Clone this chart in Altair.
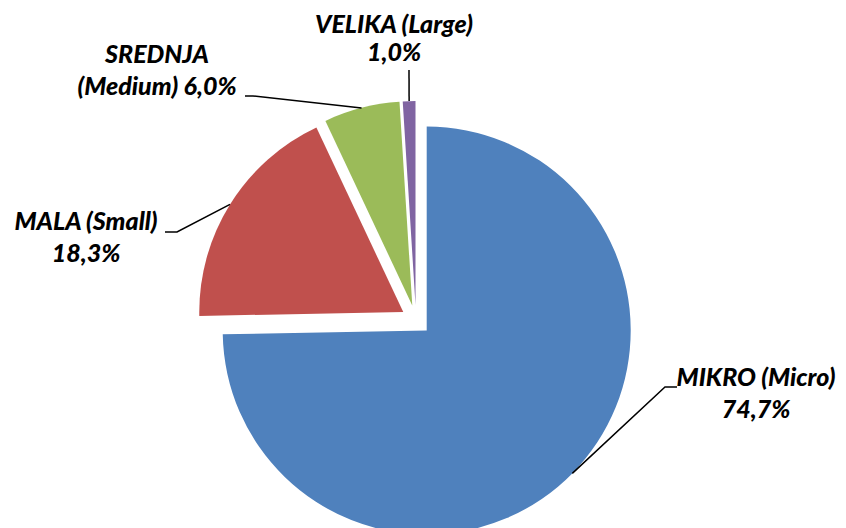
import math
import altair as alt
import pandas as pd

# ---- data ----
categories = ["MIKRO (Micro)", "MALA (Small)", "SREDNJA (Medium)", "VELIKA (Large)"]
values = [74.7, 18.3, 6.0, 1.0]
colors = ["#4F81BD", "#C0504D", "#9BBB59", "#8064A2"]
label_lines = [
    ["MIKRO (Micro)", "{p}"],
    ["MALA (Small)", "{p}"],
    ["SREDNJA", "(Medium) {p}"],
    ["VELIKA (Large)", "{p}"],
]

# ---- layout (pixels, plot coordinates) ----
W, H = 830, 520
CX, CY = 408, 312        # pie centre
R = 204                  # pie radius
EXPLODE = 15             # slice explosion distance
LINE_GAP = 32
label_pos = [(748, 370), (78, 214), (149, 47), (386, 17)]          # first-line centre
leader_pts = [
    [(657, 379), (669, 379)],
    [(169, 224), (157, 224)],
    [(245, 88), (237, 88)],
    [(401, 62)],
]

total = sum(values)
rows, lead_rows, text_rows = [], [], []
start = 0.0
for i, (cat, v) in enumerate(zip(categories, values)):
    end = start + v
    mid = (start + v / 2) / total * 2 * math.pi
    dx, dy = math.sin(mid), -math.cos(mid)
    cx, cy = CX + EXPLODE * dx, CY + EXPLODE * dy
    rows.append(dict(cat=cat, start=start, end=end, cx=cx, cy=cy))
    # leader line from slice edge at bisector
    ex, ey = cx + R * dx, cy + R * dy
    pts = [(ex, ey)] + leader_pts[i]
    for k, (px, py) in enumerate(pts):
        lead_rows.append(dict(cat=cat, k=k, px=px, py=py))
    pct = f"{v:.1f}".replace(".", ",") + "%"
    lx, ly = label_pos[i]
    for j, line in enumerate(label_lines[i]):
        gap = LINE_GAP if i != 3 else LINE_GAP - 4
        text_rows.append(dict(cat=cat, txt=line.format(p=pct), tx=lx, ty=ly + j * gap))
    start = end

slices = pd.DataFrame(rows)
leaders = pd.DataFrame(lead_rows)
texts = pd.DataFrame(text_rows)

pie = alt.Chart(slices).mark_arc(radius=R).encode(
    theta=alt.Theta("start:Q", scale=alt.Scale(domain=[0, total])),
    theta2="end:Q",
    x=alt.X("cx:Q", scale=None),
    y=alt.Y("cy:Q", scale=None),
    color=alt.Color("cat:N", scale=alt.Scale(domain=categories, range=colors), legend=None),
)

lines = alt.Chart(leaders).mark_line(color="black", strokeWidth=1.5).encode(
    x=alt.X("px:Q", scale=None),
    y=alt.Y("py:Q", scale=None),
    detail="cat:N",
    order="k:Q",
)

labels = alt.Chart(texts).mark_text(
    font="Lato", fontSize=25, fontWeight=900, fontStyle="italic",
    color="black", align="center", baseline="middle",
).encode(
    x=alt.X("tx:Q", scale=None),
    y=alt.Y("ty:Q", scale=None),
    text="txt:N",
)

chart = alt.layer(pie, lines, labels).properties(
    width=W, height=H, padding=0,
    autosize=alt.AutoSizeParams(type="none"),
).configure_view(stroke=None)

chart.save("out.html", embed_options={"renderer": "svg", "actions": False})
